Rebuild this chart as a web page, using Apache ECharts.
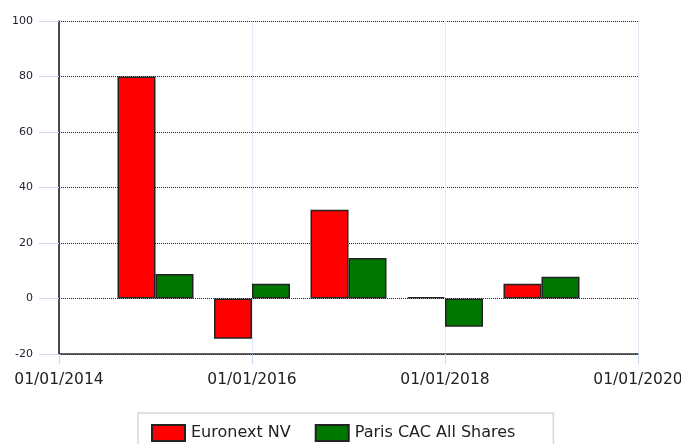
<!DOCTYPE html>
<html>
<head>
<meta charset="utf-8">
<script src="https://cdn.jsdelivr.net/npm/echarts@6/dist/echarts.min.js"></script>
<style>
  html, body { margin: 0; padding: 0; background: #fff; }
  #chart { width: 681px; height: 444px; }
</style>
</head>
<body>
<div id="chart"></div>
<script>
  // bars sit on 1 January of each year
  const years = [2015, 2016, 2017, 2018, 2019];
  const euronext = [80, -14.5, 32, 0.5, 5.3];
  const parisCac = [8.8, 5.3, 14.6, -10.2, 7.8];
  const yTicks = [-20, 0, 20, 40, 60, 80, 100];
  const seriesNames = ['Euronext NV', 'Paris CAC All Shares'];

  const chart = echarts.init(document.getElementById('chart'));

  const barSeries = (name, values, color) => ({
    name,
    type: 'bar',
    data: years.map((y, i) => [y, values[i]]),
    barWidth: 38,
    barGap: '0%',
    itemStyle: { color, borderColor: '#222', borderWidth: 1.5 },
  });

  chart.setOption({
    animation: false,
    textStyle: { fontFamily: 'DejaVu Sans' },
    grid: { left: 59, right: 43, top: 21, bottom: 90, containLabel: false, outerBoundsMode: 'none' },
    xAxis: {
      type: 'value',
      min: 2014,
      max: 2020,
      interval: 2,
      axisLine: { onZero: false, lineStyle: { color: '#333', width: 1.5 } },
      axisTick: { show: true, length: 10, lineStyle: { color: '#c8d8f0' } },
      splitLine: { show: true, lineStyle: { color: '#c8d8f0', type: 'dotted' } },
      axisLabel: {
        color: '#222',
        fontSize: 15.5,
        margin: 18,
        formatter: (v) => '01/01/' + v,
      },
    },
    yAxis: {
      type: 'value',
      min: yTicks[0],
      max: yTicks[yTicks.length - 1],
      interval: 20,
      axisLine: { show: true, onZero: false, lineStyle: { color: '#111', width: 1.5 } },
      axisTick: { show: true, length: 20, lineStyle: { color: '#c8d8f0' } },
      splitLine: { show: true, lineStyle: { color: '#222', type: 'dotted' } },
      axisLabel: { color: '#223', fontSize: 11, margin: 26 },
    },
    legend: {
      data: seriesNames,
      icon: 'rect',
      left: 138,
      top: 413,
      padding: [11, 38, 20, 13],
      borderColor: '#d6d6d6',
      borderWidth: 1.5,
      itemWidth: 33,
      itemHeight: 16,
      itemGap: 24,
      textStyle: { fontSize: 16, color: '#222', padding: [0, 0, 0, 1] },
    },
    series: [
      barSeries(seriesNames[0], euronext, '#ff0000'),
      barSeries(seriesNames[1], parisCac, '#007800'),
    ],
  });
</script>
</body>
</html>
